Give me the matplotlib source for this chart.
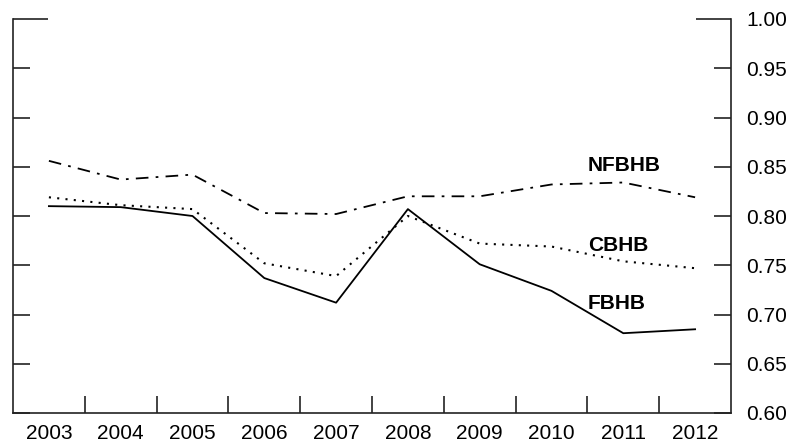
#!/usr/bin/env python
# -*- encoding: utf8 -*-

import matplotlib
matplotlib.use("Agg")
import matplotlib.pyplot as plt
import numpy as np

plt.rcParams['font.family'] = ['Liberation Sans', 'DejaVu Sans']

years = ['2003', '2004', '2005', '2006', '2007', '2008', '2009', '2010', '2011', '2012']
fbhb = [0.810, 0.809, 0.800, 0.737, 0.712, 0.807, 0.751, 0.724, 0.681, 0.685]
cbhb = [0.819, 0.811, 0.807, 0.752, 0.739, 0.800, 0.772, 0.769, 0.754, 0.747]
nfbhb = [0.856, 0.837, 0.842, 0.803, 0.802, 0.820, 0.820, 0.832, 0.834, 0.819]
yticks = [0.60, 0.65, 0.70, 0.75, 0.80, 0.85, 0.90, 0.95, 1.00]

x = np.arange(len(years))

fig = plt.figure(figsize=(7.87, 4.46), dpi=100)
ax = fig.add_axes([13/787, 1-413/446, (731-13)/787, (413-19)/446])

ax.plot(x, fbhb, '-', color='black', lw=1.3)
ax.plot(x, cbhb, color='black', lw=1.5, linestyle=(0, (1.0, 3.0)))
ax.plot(x, nfbhb, color='black', lw=1.3, linestyle=(0, (7, 4, 1.5, 4)))

ax.text(7.51, 0.851, 'NFBHB', fontsize=15, fontweight='bold', va='center', ha='left')
ax.text(7.51, 0.7705, 'CBHB', fontsize=15, fontweight='bold', va='center', ha='left')
ax.text(7.51, 0.711, 'FBHB', fontsize=15, fontweight='bold', va='center', ha='left')

ax.set_xlim(-0.5, len(years) - 0.5)
ax.set_ylim(0.60, 1.00)

# ticks between the years, labels on the years
ax.set_xticks(x[:-1] + 0.5)
ax.set_xticklabels([])
ax.set_xticks(x, minor=True)
ax.set_xticklabels(years, minor=True, fontsize=15)
ax.tick_params(axis='x', which='major', direction='in', length=12, width=1.2, color='#222222')
ax.tick_params(axis='x', which='minor', length=0, pad=8)

ax.set_yticks(yticks)
ax.set_yticklabels(['%.2f' % v for v in yticks], fontsize=15)
ax.tick_params(axis='y', which='major', direction='in', length=12.5, width=1.2, color='#222222',
               left=True, right=True, labelleft=False, labelright=True, pad=11)

# the 1.00 tick is drawn longer
top = ax.yaxis.get_major_ticks()[-1]
top.tick1line.set_markersize(25)
top.tick2line.set_markersize(25)

ax.spines['top'].set_visible(False)
for s in ('left', 'right', 'bottom'):
    ax.spines[s].set_linewidth(1.2)
    ax.spines[s].set_color('#222222')

fig.savefig('out.png', dpi=100)
